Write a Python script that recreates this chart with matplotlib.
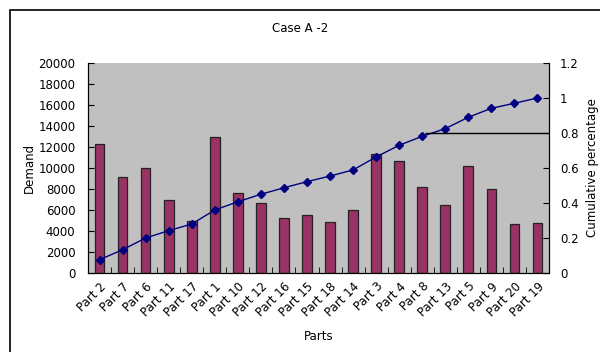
import matplotlib
matplotlib.use("Agg")
import matplotlib.pyplot as plt
from matplotlib.patches import Rectangle

parts = ["Part 2", "Part 7", "Part 6", "Part 11", "Part 17", "Part 1", "Part 10",
         "Part 12", "Part 16", "Part 15", "Part 18", "Part 14", "Part 3", "Part 4",
         "Part 8", "Part 13", "Part 5", "Part 9", "Part 20", "Part 19"]
demand = [12300, 9150, 10000, 6950, 5000, 13000, 7600, 6700, 5250, 5500,
          4850, 6000, 11300, 10700, 8200, 6500, 10200, 8000, 4700, 4750]
cumulative = [0.076, 0.133, 0.200, 0.242, 0.280, 0.360, 0.407, 0.450, 0.487, 0.522,
              0.554, 0.589, 0.663, 0.730, 0.781, 0.825, 0.890, 0.941, 0.970, 1.000]
cutoff = 0.8

plt.rcParams["font.family"] = ["DejaVu Sans"]
fig = plt.figure(figsize=(6, 3.52), dpi=100)
fig.patch.set_facecolor("white")

# chart border
fig.patches.append(Rectangle((10 / 600, -0.1), 1.0, (342 / 352) + 0.1,
                             transform=fig.transFigure, fill=False,
                             edgecolor="black", linewidth=1.2))

ax = fig.add_axes([88 / 600, 1 - 273 / 352, (549 - 88) / 600, (273 - 63) / 352])
ax.set_facecolor("#C0C0C0")
x = list(range(len(parts)))
ax.bar(x, demand, width=0.42, color="#993366", edgecolor="#222222", linewidth=0.9)
ax.set_xlim(-0.5, len(parts) - 0.5)
ax.set_ylim(0, 20000)
ax.set_yticks(range(0, 20001, 2000))
ax.set_xticks([i + 0.5 for i in x], minor=True)
ax.set_xticks(x)
ax.set_xticklabels(parts, rotation=45, ha="right", va="top", rotation_mode="anchor", fontsize=8.5)
ax.tick_params(axis="x", which="major", length=0, pad=5)
ax.tick_params(axis="x", which="minor", direction="in", length=4)
ax.tick_params(axis="y", direction="in", length=4, labelsize=8.5, pad=9)
ax.spines["top"].set_visible(False)
ax.set_ylabel("Demand", fontsize=8.5, labelpad=2)
ax.set_xlabel("Parts", fontsize=8.5, labelpad=8)

ax2 = ax.twinx()
ax2.plot(x, cumulative, color="#000080", marker="D", markersize=3.8, linewidth=1)
ax2.hlines(cutoff, 14.1, len(parts) - 0.5, color="black", linewidth=1)
ax2.set_ylim(0, 1.2)
ax2.set_yticks([0, 0.2, 0.4, 0.6, 0.8, 1, 1.2])
ax2.set_yticklabels(["0", "0.2", "0.4", "0.6", "0.8", "1", "1.2"])
ax2.tick_params(axis="y", direction="in", length=4, labelsize=8.5, pad=8)
ax2.spines["top"].set_visible(False)
ax2.set_ylabel("Cumulative percentage", fontsize=8.5, labelpad=5)

fig.text(0.5, 1 - 28 / 352, "Case A -2", ha="center", va="center", fontsize=8.5)

fig.savefig("out.png", dpi=100)
